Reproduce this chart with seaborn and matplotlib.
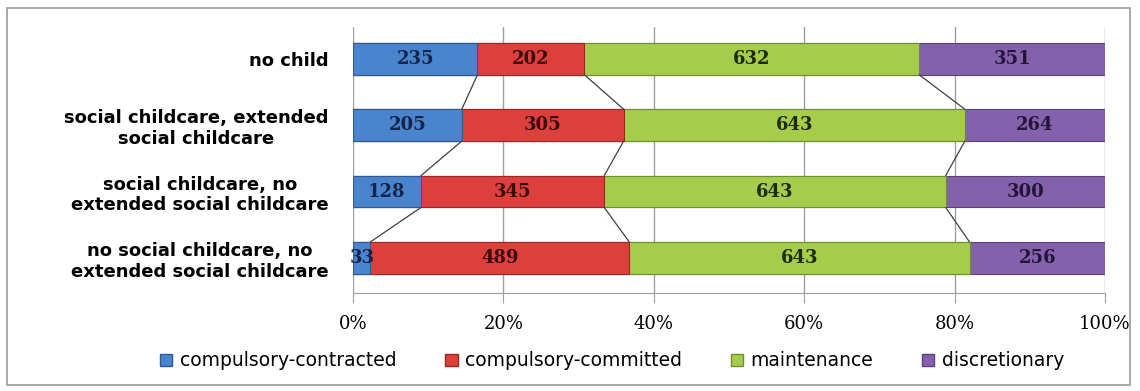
import numpy as np
import pandas as pd
import matplotlib
matplotlib.use("Agg")
import matplotlib.pyplot as plt
import seaborn as sns
from matplotlib.patches import Patch, Rectangle

categories = [
    "no child",
    "social childcare, extended\nsocial childcare",
    "social childcare, no\nextended social childcare",
    "no social childcare, no\nextended social childcare",
]
series = ["compulsory-contracted", "compulsory-committed", "maintenance", "discretionary"]
contracted = [235, 205, 128, 33]
committed = [202, 305, 345, 489]
maintenance = [632, 643, 643, 643]
discretionary = [351, 264, 300, 256]
tick_labels = ["0%", "20%", "40%", "60%", "80%", "100%"]

colors = ["#4a84cc", "#dd403c", "#a6cc4c", "#8462ab"]
edges = ["#2e5a94", "#9c2624", "#6f8f2c", "#5a3f7d"]
text_colors = ["#14244a", "#3a0c0c", "#1f2a08", "#24163a"]

sns.set_style("white")

vals = np.array([contracted, committed, maintenance, discretionary], dtype=float).T
pct = vals / vals.sum(axis=1, keepdims=True) * 100
cum = np.cumsum(pct, axis=1)

fig = plt.figure(figsize=(11.4, 3.91), dpi=100)
ax = fig.add_axes([353 / 1140, 1 - 293 / 391, 752 / 1140, 266 / 391])

# stacked bars: draw cumulative layers back to front
for k in range(3, -1, -1):
    df = pd.DataFrame({"cat": categories, "val": cum[:, k]})
    sns.barplot(data=df, x="val", y="cat", orient="h", color=colors[k],
                width=0.48, saturation=1, edgecolor=edges[k], linewidth=0.8, ax=ax)

# value labels
for i in range(len(categories)):
    for k in range(4):
        left = cum[i, k] - pct[i, k]
        ax.text(left + pct[i, k] / 2, i, f"{int(vals[i, k])}", ha="center", va="center",
                fontsize=13, fontweight="bold", family="DejaVu Serif", color=text_colors[k],
                zorder=5)

# series lines between bars
h = 0.24
for i in range(len(categories) - 1):
    for k in range(3):
        ax.plot([cum[i, k], cum[i + 1, k]], [i + h, i + 1 - h], color="#404040", lw=0.9, zorder=4)

ax.set_xlim(0, 100)
ax.set_ylim(3.53, -0.48)
ax.set_xticks(np.arange(0, 101, 20))
ax.set_xticklabels(tick_labels, family="DejaVu Serif", fontsize=13)
ax.xaxis.grid(True, color="#a0a0a0", lw=1)
ax.set_axisbelow(True)
ax.set_xlabel("")
ax.set_ylabel("")
ax.tick_params(axis="x", bottom=True, length=7, color="#a0a0a0", pad=9, labelcolor="black")
ax.tick_params(axis="y", left=False, pad=14, labelcolor="black")
for lab in ax.get_yticklabels():
    lab.set_fontsize(13)
    lab.set_fontweight("bold")
    lab.set_horizontalalignment("right")
    lab.set_multialignment("center")
for s in ["top", "right", "left"]:
    ax.spines[s].set_visible(False)
ax.spines["bottom"].set_color("#a0a0a0")

handles = [Patch(facecolor=colors[k], edgecolor=edges[k]) for k in range(4)]
leg = fig.legend(handles, series, loc="center", bbox_to_anchor=(0.537, 1 - 361 / 391), ncol=4,
                 frameon=False, fontsize=13.5, handlelength=0.65, handleheight=0.65,
                 handletextpad=0.4, columnspacing=2.6)
for t in leg.get_texts():
    t.set_color("black")

fig.patches.append(Rectangle((7 / 1140, 1 - 385 / 391), 1123 / 1140, 377 / 391,
                             transform=fig.transFigure, fill=False, edgecolor="#9a9a9a", lw=1.2))

fig.savefig("out.png", dpi=100)
